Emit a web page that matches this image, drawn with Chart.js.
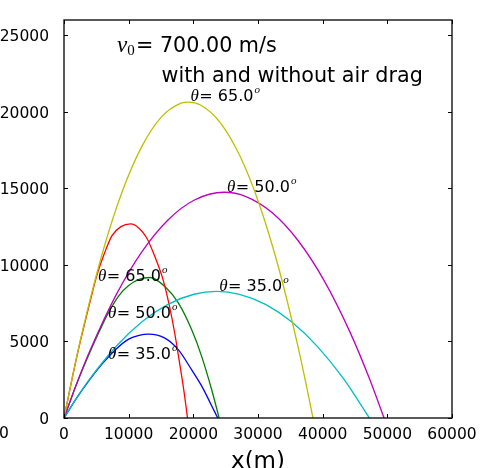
<!DOCTYPE html>
<html>
<head>
<meta charset="utf-8">
<script src="https://cdn.jsdelivr.net/npm/chart.js@4.4.1/dist/chart.umd.min.js"></script>
<style>
  html, body { margin: 0; padding: 0; background: #fff; overflow: hidden; }
</style>
</head>
<body>
<canvas id="myChart" width="491" height="468"></canvas>
<script>
// trajectories without air drag, v0 = 700 m/s
const xNoDrag65 = [0, 1508, 3015, 6031, 9046, 12062, 15077, 18092, 19249, 21108, 24123, 27139, 30154, 33169, 36185, 37491, 38498];
const yNoDrag65 = [0, 3106, 5960, 10907, 14842, 17763, 19671, 20566, 20640, 20448, 19318, 17175, 14018, 9848, 4666, 2101, 0];
const xNoDrag50 = [0, 2010, 4021, 8041, 12062, 16082, 20103, 24746, 28144, 32164, 36185, 40205, 44226, 47241, 49494];
const yNoDrag50 = [0, 2299, 4402, 8026, 10871, 12938, 14227, 14746, 14468, 13421, 11595, 8992, 5610, 2562, 0];
const xNoDrag35 = [0, 2010, 4021, 8041, 12062, 16082, 20103, 23613, 27139, 31159, 35180, 39200, 43221, 47226];
const yNoDrag35 = [0, 1347, 2576, 4672, 6289, 7426, 8084, 8266, 8083, 7423, 6283, 4665, 2567, 0];

// trajectories with air drag
const xDrag65 = [0, 2000, 4000, 5100, 6200, 7400, 8800, 10300, 11600, 12800, 14000, 15200, 16000, 16700, 17400, 18100, 18600, 19100];
const yDrag65 = [0, 4040, 7550, 9350, 10700, 11900, 12500, 12680, 12400, 11760, 10600, 9200, 7900, 6500, 4850, 3000, 1600, 0];
const xDrag50 = [0, 2000, 4000, 6000, 7000, 8500, 10000, 11600, 13300, 15600, 17700, 19750, 21300, 22850, 23990];
const yDrag50 = [0, 2270, 4300, 6150, 6980, 8000, 8650, 9050, 9180, 8590, 7500, 5760, 4010, 1830, 0];
const xDrag35 = [0, 2000, 4000, 6000, 8000, 10000, 11600, 13100, 15600, 17700, 19750, 21300, 22600, 23770];
const yDrag35 = [0, 1330, 2520, 3580, 4480, 5150, 5400, 5480, 5220, 4450, 3140, 2080, 1000, 0];

const xTicks = [0, 10000, 20000, 30000, 40000, 50000, 60000];
const yTicks = [0, 5000, 10000, 15000, 20000, 25000];

// angle labels placed in data units
const labelX = [19550, 25200, 24000, 5250, 6800, 6800];
const labelY = [20700, 14750, 8270, 8980, 6530, 3860];
const labelText = ['= 65.0', '= 50.0', '= 35.0', '= 65.0', '= 50.0', '= 35.0'];

const zip = (xs, ys) => xs.map((v, i) => ({x: v, y: ys[i]}));

const sans = '"DejaVu Sans", sans-serif';
const serif = '"Liberation Serif", "DejaVu Serif", serif';

const axesBox = {
    id: 'axesBox',
    afterDatasetsDraw(chart) {
        const {ctx, chartArea: a, scales: {x, y}} = chart;
        ctx.save();
        ctx.strokeStyle = '#000';
        ctx.lineWidth = 1;
        ctx.beginPath();
        xTicks.forEach(v => {
            const p = Math.round(x.getPixelForValue(v)) + 0.5;
            ctx.moveTo(p, a.bottom); ctx.lineTo(p, a.bottom - 4);
            ctx.moveTo(p, a.top); ctx.lineTo(p, a.top + 4);
        });
        yTicks.forEach(v => {
            const p = Math.round(y.getPixelForValue(v)) + 0.5;
            ctx.moveTo(a.left, p); ctx.lineTo(a.left + 4, p);
            ctx.moveTo(a.right, p); ctx.lineTo(a.right - 4, p);
        });
        ctx.stroke();
        ctx.lineWidth = 1.3;
        ctx.strokeRect(a.left, a.top, a.right - a.left, a.bottom - a.top);

        ctx.fillStyle = '#000';
        ctx.textBaseline = 'alphabetic';
        ctx.textAlign = 'left';

        // theta labels
        labelText.forEach((t, i) => {
            let px = x.getPixelForValue(labelX[i]);
            const py = y.getPixelForValue(labelY[i]);
            ctx.font = 'italic 17px ' + serif;
            ctx.fillText('θ', px, py);
            px += ctx.measureText('θ').width + 0.5;
            ctx.font = '16px ' + sans;
            ctx.fillText(t, px, py);
            px += ctx.measureText(t).width + 1;
            ctx.font = 'italic 11px ' + serif;
            ctx.fillText('o', px, py - 8);
        });

        // header text
        let hx = 117;
        ctx.font = 'italic 23px ' + serif;
        ctx.fillText('v', hx, 51.5);
        hx += ctx.measureText('v').width;
        ctx.font = '15px ' + serif;
        ctx.fillText('0', hx, 55);
        ctx.font = '20.7px ' + sans;
        ctx.fillText('= 700.00 m/s', 136, 51.5);
        ctx.fillText('with and without air drag', 161.5, 81.5);

        // clipped label at the left edge of the figure
        ctx.font = '15.5px ' + sans;
        ctx.textAlign = 'center';
        ctx.fillText('0', 4, 437.5);
        ctx.restore();
    }
};

const lineSet = (label, xs, ys, color) => ({
    label: label,
    data: zip(xs, ys),
    borderColor: color,
    borderWidth: 1.3,
    pointRadius: 0,
    fill: false,
    cubicInterpolationMode: 'monotone'
});

const ctx = document.getElementById('myChart');
new Chart(ctx, {
    type: 'line',
    data: {
        // first dataset is drawn on top
        datasets: [
            lineSet('no drag 65', xNoDrag65, yNoDrag65, '#bfbf00'),
            lineSet('no drag 50', xNoDrag50, yNoDrag50, '#bf00bf'),
            lineSet('no drag 35', xNoDrag35, yNoDrag35, '#00bfbf'),
            lineSet('drag 65', xDrag65, yDrag65, '#ff0000'),
            lineSet('drag 50', xDrag50, yDrag50, '#008000'),
            lineSet('drag 35', xDrag35, yDrag35, '#0000ff')
        ]
    },
    options: {
        responsive: false,
        animation: false,
        devicePixelRatio: 1,
        layout: {
            padding: {top: 20, right: 39, bottom: 0, left: 0}
        },
        scales: {
            x: {
                type: 'linear',
                min: 0,
                max: 60000,
                grid: {display: false},
                border: {display: false},
                afterFit: s => { s.height = 50; },
                afterBuildTicks: s => { s.ticks = xTicks.map(v => ({value: v})); },
                ticks: {
                    color: '#000',
                    padding: 0,
                    maxRotation: 0,
                    font: {family: 'DejaVu Sans', size: 15.5},
                    callback: v => String(v)
                },
                title: {
                    display: true,
                    text: 'x(m)',
                    color: '#000',
                    font: {family: 'DejaVu Sans', size: 23, lineHeight: 1},
                    padding: {top: 0, bottom: -6}
                }
            },
            y: {
                type: 'linear',
                min: 0,
                max: 26000,
                grid: {display: false},
                border: {display: false},
                afterFit: s => { s.width = 64; },
                afterBuildTicks: s => { s.ticks = yTicks.map(v => ({value: v})); },
                ticks: {
                    color: '#000',
                    padding: 7,
                    labelOffset: 2,
                    font: {family: 'DejaVu Sans', size: 15.5},
                    callback: v => String(v)
                }
            }
        },
        plugins: {
            legend: {display: false},
            tooltip: {enabled: false}
        }
    },
    plugins: [axesBox]
});
</script>
</body>
</html>
